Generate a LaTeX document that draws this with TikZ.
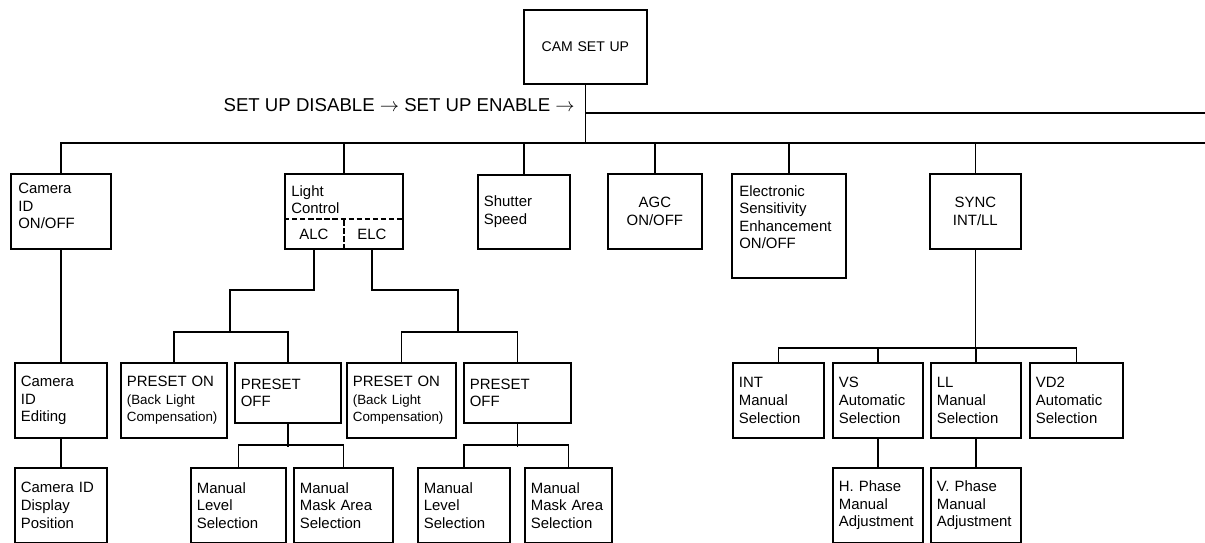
\documentclass[tikz,border=0pt]{standalone}
\usepackage{fontspec}
\setmainfont{Liberation Sans}
\usetikzlibrary{positioning,calc}

\newcommand{\boxfont}{\fontsize{8.5}{10}\selectfont}
\newcommand{\smallboxfont}{\fontsize{7.6}{10}\selectfont}
\newcommand{\headfont}{\fontsize{10.6}{12}\selectfont}
\newcommand{\camfont}{\fontsize{8}{9.6}\selectfont}

\begin{document}
\begin{tikzpicture}[x=0.02cm, y=-0.02cm,
    box/.style 2 args={draw, line width=1pt, anchor=north west, inner xsep=0.12cm, inner ysep=0pt,
        minimum width=#1*0.02cm, text width=#1*0.02cm-0.24cm, minimum height=#2*0.02cm,
        align=left, font=\boxfont},
    cbox/.style 2 args={box={#1}{#2}, align=center},
    boxtext/.style={anchor=north west, inner sep=0pt, align=left, font=\boxfont},
    link/.style={line width=0.8pt},
    divider/.style={line width=0.8pt, dash pattern=on 3pt off 1.6pt}]
    \useasboundingbox (0,0) rectangle (1205,543);

    % Top box and set up line
    \node[cbox={123}{74}, font=\camfont] (camsetup) at (523,9) {CAM SET UP};
    \node[anchor=east, inner sep=0pt, font=\headfont] (setupline) at (575,105) {SET UP DISABLE $\rightarrow$ SET UP ENABLE $\rightarrow$};

    % Bus lines
    \coordinate (busL) at (60,143);
    \coordinate (busR) at (1205,143);
    \coordinate (upR) at (1205,113);
    \draw[link] (busL) -- (busR);
    \draw[link] (camsetup.south) -- (camsetup.south |- busL);
    \draw[link] (camsetup.south |- upR) -- (upR);

    % First row
    \node[box={100}{75}] (camid) at (10,173) {};
    \node[boxtext] (camidtext) at ([shift={(8,10)}]camid.north west) {Camera\\ID\\ON/OFF};
    \node[box={118}{75}] (light) at (284,173) {};
    \node[boxtext] (lighttext) at ([shift={(7,12)}]light.north west) {Light\\Control};
    \draw[divider] ([shift={(0,46)}]light.north west) -- ([shift={(0,46)}]light.north east);
    \draw[divider] (light.south) -- ([shift={(0,46)}]light.north);
    \node[font=\boxfont] (alc) at (314,234) {ALC};
    \node[font=\boxfont] (elc) at (372,234) {ELC};
    \node[box={92}{74}] (shutter) at (477,174) {Shutter\\Speed};
    \node[cbox={94}{75}] (agc) at (607,173) {AGC\\ON/OFF};
    \node[box={114}{104}] (elec) at (731,173) {};
    \node[boxtext] (electext) at ([shift={(8,12)}]elec.north west) {Electronic\\Sensitivity\\Enhancement\\ON/OFF};
    \node[cbox={91}{75}] (sync) at (929,173) {SYNC\\INT/LL};

    % Drops from the bus
    \foreach \n in {camid,light,shutter,agc,elec,sync}
        \draw[link] (\n.north) -- (\n.north |- busL);

    % Camera ID branch
    \node[box={92}{75}] (camedit) at (14,362) {Camera\\ID\\Editing};
    \node[box={92}{75}] (campos) at (14,467) {Camera~ID\\Display\\Position};
    \draw[link] (camid.south) -- (camedit.north);
    \draw[link] (camedit.south) -- (campos.north);

    % Light control branch
    \node[box={106}{75}] (preon1) at (120,362) {PRESET~ON\\\smallboxfont(Back~Light\\\smallboxfont Compensation)};
    \node[box={106}{60}] (preoff1) at (234,362) {PRESET\\OFF};
    \node[box={109}{75}] (preon2) at (346,362) {PRESET~ON\\\smallboxfont(Back~Light\\\smallboxfont Compensation)};
    \node[box={107}{60}] (preoff2) at (463,362) {PRESET\\OFF};
    \node[box={95}{75}] (mlev1) at (190,467) {Manual\\Level\\Selection};
    \node[box={99}{75}] (mmask1) at (293,467) {Manual\\Mask~Area\\Selection};
    \node[box={92}{75}] (mlev2) at (417,467) {Manual\\Level\\Selection};
    \node[box={87}{75}] (mmask2) at (524,467) {Manual\\Mask~Area\\Selection};

    \coordinate (alcj) at (230,290);
    \coordinate (elcj) at (458,290);
    \draw[link] (alc |- light.south) |- (alcj) -- ++(0,42);
    \draw[link] (elc |- light.south) |- (elcj) -- ++(0,42);
    \draw[link] (preon1.north) -- ++(0,-30) -| (preoff1.north);
    \draw[link] (preon2.north) -- ++(0,-30) -| (preoff2.north);
    \draw[link] (preoff1.south) -- ++(0,23);
    \draw[link] (preoff2.south) -- ++(0,23);
    \draw[link] (mlev1.north) -- ++(0,-22) -| (mmask1.north);
    \draw[link] (mlev2.north) -- ++(0,-22) -| (mmask2.north);

    % Sync branch
    \node[box={91}{75}] (intsel) at (732,362) {INT\\Manual\\Selection};
    \node[box={90}{75}] (vssel) at (832,362) {VS\\Automatic\\Selection};
    \node[box={90}{75}] (llsel) at (930,362) {LL\\Manual\\Selection};
    \node[box={93}{75}] (vdsel) at (1029,362) {VD2\\Automatic\\Selection};
    \node[box={90}{75}] (hphase) at (832,467) {H. Phase\\Manual\\Adjustment};
    \node[box={90}{75}] (vphase) at (930,467) {V. Phase\\Manual\\Adjustment};
    \draw[link] (sync.south) -- ++(0,100);
    \draw[link] (intsel.north) -- ++(0,-14) -| (vdsel.north);
    \draw[link] (vssel.north) -- ++(0,-14);
    \draw[link] (llsel.north) -- ++(0,-14);
    \draw[link] (vssel.south) -- (hphase.north);
    \draw[link] (llsel.south) -- (vphase.north);

\end{tikzpicture}
\end{document}
